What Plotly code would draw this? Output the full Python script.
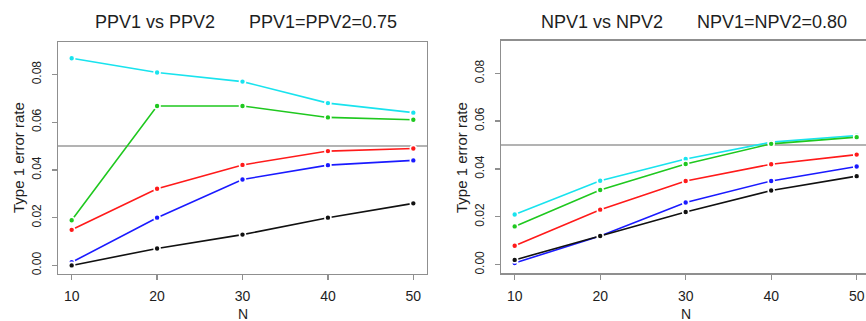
import plotly.graph_objects as go

N = [10, 20, 30, 40, 50]

# Left panel: PPV1 vs PPV2 (PPV1=PPV2=0.75)
ppv_cyan = [0.0868, 0.0808, 0.0770, 0.0680, 0.0640]
ppv_green = [0.0189, 0.0668, 0.0668, 0.0620, 0.0610]
ppv_red = [0.0149, 0.0321, 0.0421, 0.0479, 0.0490]
ppv_blue = [0.0013, 0.0200, 0.0360, 0.0420, 0.0440]
ppv_black = [0.0000, 0.0071, 0.0129, 0.0200, 0.0260]

# Right panel: NPV1 vs NPV2 (NPV1=NPV2=0.80)
npv_cyan = [0.0210, 0.0351, 0.0442, 0.0512, 0.0540]
npv_green = [0.0160, 0.0312, 0.0421, 0.0505, 0.0533]
npv_red = [0.0079, 0.0230, 0.0350, 0.0420, 0.0460]
npv_blue = [0.0007, 0.0120, 0.0260, 0.0350, 0.0410]
npv_black = [0.0020, 0.0120, 0.0220, 0.0310, 0.0370]

reference_rate = 0.05
y_ticks = [0.00, 0.02, 0.04, 0.06, 0.08]
y_ticklabels = ["0.00", "0.02", "0.04", "0.06", "0.08"]
x_ticks = [10, 20, 30, 40, 50]

titles_left = ["PPV1 vs PPV2", "PPV1=PPV2=0.75"]
titles_right = ["NPV1 vs NPV2", "NPV1=NPV2=0.80"]

colors = ["#19E3EE", "#1FC81F", "#FF1A1A", "#1A1AFF", "#111111"]

W, H = 866, 321
FONT = "Liberation Sans, Arial, sans-serif"
BOX = "#8f8f8f"
TXT = "#1e1e1e"

fig = go.Figure()

def add_series(series, xa, ya):
    for vals, c in zip(series, colors):
        fig.add_trace(go.Scatter(
            x=N, y=vals, mode="lines+markers", xaxis=xa, yaxis=ya,
            line=dict(color=c, width=1.6),
            marker=dict(color=c, size=6, line=dict(color="white", width=1.6)),
            showlegend=False, hoverinfo="skip"))

add_series([ppv_cyan, ppv_green, ppv_red, ppv_blue, ppv_black], "x", "y")
add_series([npv_cyan, npv_green, npv_red, npv_blue, npv_black], "x2", "y2")

def px_x(p):
    return p / W

def px_y(p):
    return 1 - p / H

xcommon = dict(tickmode="array", tickvals=x_ticks, ticks="outside", ticklen=5,
               tickcolor=BOX, tickwidth=1.3, showline=True, linecolor=BOX,
               linewidth=1.4, showgrid=False, zeroline=False,
               tickfont=dict(family=FONT, size=14, color=TXT),
               automargin=False, ticklabelstandoff=4)
ycommon = dict(tickmode="array", tickvals=y_ticks, ticktext=y_ticklabels,
               ticks="outside", ticklen=5, tickcolor=BOX, tickwidth=1.3,
               showline=True, linecolor=BOX, linewidth=1.4, showgrid=False,
               zeroline=False, tickangle=-90, range=[-0.0036, 0.0936],
               tickfont=dict(family=FONT, size=12, color=TXT),
               automargin=False, ticklabelstandoff=6)

fig.update_layout(
    width=W, height=H, margin=dict(l=0, r=0, t=0, b=0),
    paper_bgcolor="white", plot_bgcolor="white",
    xaxis=dict(domain=[px_x(58), px_x(427)], range=[8.4, 51.6], mirror=True,
               anchor="y", **xcommon),
    yaxis=dict(domain=[px_y(274), px_y(42)], mirror=True, anchor="x", **ycommon),
    xaxis2=dict(domain=[px_x(501), 1.0], range=[8.4, 51.09], mirror=True,
                anchor="y2", **xcommon),
    yaxis2=dict(domain=[px_y(273.3), px_y(40.7)], mirror=False, anchor="x2",
                **ycommon),
)

for xr, yr in [("x domain", "y"), ("x2 domain", "y2")]:
    fig.add_shape(type="line", xref=xr, yref=yr, x0=0, x1=1,
                  y0=reference_rate, y1=reference_rate,
                  line=dict(color="#9a9a9a", width=1.6), layer="below")

ann = []
for text, cx in [(titles_left[0], 154.5), (titles_left[1], 322.5),
                 (titles_right[0], 601.5), (titles_right[1], 772)]:
    ann.append(dict(text=text, x=px_x(cx), y=px_y(22), xref="paper",
                    yref="paper", xanchor="center", yanchor="middle",
                    showarrow=False, font=dict(family=FONT, size=18, color=TXT)))
for cx in [242.5, 685.5]:
    ann.append(dict(text="N", x=px_x(cx), y=px_y(314), xref="paper",
                    yref="paper", xanchor="center", yanchor="middle",
                    showarrow=False, font=dict(family=FONT, size=14, color=TXT)))
for cx, cy in [(18, 158), (461, 158)]:
    ann.append(dict(text="Type 1 error rate", x=px_x(cx), y=px_y(cy),
                    xref="paper", yref="paper", xanchor="center",
                    yanchor="middle", textangle=-90, showarrow=False,
                    font=dict(family=FONT, size=15, color=TXT)))
fig.update_layout(annotations=ann)

fig.write_html(
    "out.html",
    config={"displayModeBar": False, "staticPlot": True},
    post_script="document.body.style.margin='0';document.body.style.overflow='hidden';",
)
